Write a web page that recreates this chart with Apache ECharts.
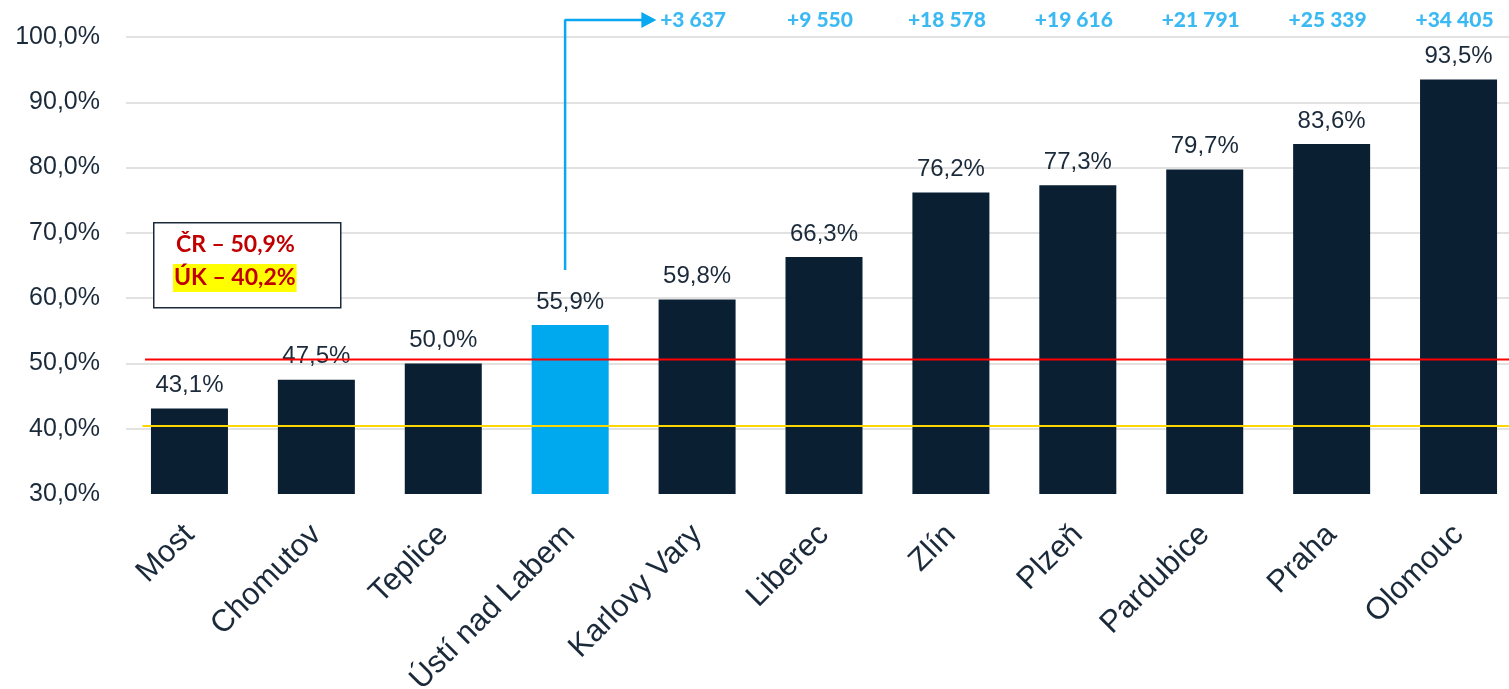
<!DOCTYPE html>
<html><head><meta charset="utf-8">
<script src="https://cdn.jsdelivr.net/npm/echarts@6/dist/echarts.min.js"></script>
<style>html,body{margin:0;padding:0;background:#fff;overflow:hidden;width:1509px;height:689px}#c{width:1530px;height:689px}</style>
</head><body><div id="c"></div>
<script>
const categories = ['Most','Chomutov','Teplice','Ústí nad Labem','Karlovy Vary','Liberec','Zlín','Plzeň','Pardubice','Praha','Olomouc'];
const shares = [43.1,47.5,50.0,55.9,59.8,66.3,76.2,77.3,79.7,83.6,93.5];
const increments = [null,null,null,null,3637,9550,18578,19616,21791,25339,34405];
const highlighted = 'Ústí nad Labem';
const yTicks = {min:30, max:100, interval:10};
const crLine = 50.6;   // drawn position of ČR line
const ukLine = 40.4;   // drawn position of ÚK line
const legendCR = 'ČR – 50,9%';
const legendUK = 'ÚK – 40,2%';
const incrementRow = 102.6;
const arrowPath = [[3.46,64.3],[3.46,102.6],[4.12,102.6]];

const DARK = '#0B1F33', BLUE = '#00A8EE', TXT = '#1B2A3A', BLUETXT = '#0AA8F0';
const fmtPct = v => v.toFixed(1).replace('.', ',') + '%';
const fmtInc = v => '+' + String(v).replace(/\B(?=(\d{3})+(?!\d))/g, ' ');

const chart = echarts.init(document.getElementById('c'), null, {renderer:'canvas'});
chart.setOption({
  animation:false,
  grid:{left:126, top:37, right:8, height:457, containLabel:false, outerBoundsMode:'none'},
  xAxis:[
    {type:'category', data:categories, axisLine:{show:false}, axisTick:{show:false},
     axisLabel:{rotate:45, margin:36, color:TXT, fontFamily:'Liberation Sans', fontSize:31, interval:0}},
    {type:'value', min:0, max:11, show:false}
  ],
  yAxis:{type:'value', min:yTicks.min, max:yTicks.max, interval:yTicks.interval,
    axisLine:{show:false}, axisTick:{show:false},
    axisLabel:{formatter:fmtPct, color:TXT, fontFamily:'Liberation Sans', fontSize:25, margin:26},
    splitLine:{lineStyle:{color:['rgba(0,0,0,0)','#D9D9D9','#D9D9D9','#D9D9D9','#D9D9D9','#D9D9D9','#D9D9D9','#D9D9D9'], width:1.5}}},
  series:[
    {type:'bar', barWidth:77, xAxisIndex:0,
     data: shares.map((v,i)=>({value:v, itemStyle:{color: categories[i]===highlighted ? BLUE : DARK}})),
     label:{show:true, position:'top', distance:11, formatter:p=>fmtPct(p.value), color:TXT, fontFamily:'Liberation Sans', fontSize:24}},
    {type:'line', xAxisIndex:1, data:[[0.15,crLine],[11,crLine]], symbol:'none', lineStyle:{color:'#FF0000', width:2}, silent:true, z:5},
    {type:'line', xAxisIndex:1, data:[[0.13,ukLine],[11,ukLine]], symbol:'none', lineStyle:{color:'#FFD700', width:2}, silent:true, z:5},
    {type:'scatter', xAxisIndex:0, clip:false, symbolSize:0,
     data: increments.map((v,i)=> v==null ? null : [categories[i], incrementRow, v]).filter(d=>d),
     label:{show:true, position:'inside', offset:[-4,0], formatter:p=>fmtInc(p.value[2]), color:BLUETXT, fontFamily:'Lato', fontWeight:900, fontSize:21}},
    {type:'line', xAxisIndex:1, clip:false, lineStyle:{color:BLUETXT, width:2.5}, itemStyle:{color:BLUETXT},
     data: arrowPath.map((p,i)=>({value:p, symbol: i===arrowPath.length-1 ? 'triangle':'none', symbolSize:[16,15], symbolRotate:-90, symbolOffset:[0,0]})), z:6}
  ],
  graphic:[
    {type:'rect', left:153, top:222, shape:{width:187, height:85}, style:{fill:'#fff', stroke:'#1B2A3A', lineWidth:1.5}, z:10},
    {type:'text', left:176, top:233, style:{text:legendCR, fill:'#C00000', font:'bold 23px Lato'}, z:11},
    {type:'text', left:173, top:264, style:{text:legendUK, fill:'#C00000', font:'bold 23px Lato', backgroundColor:'#FFFF00', padding:[2,1,3,1]}, z:11}
  ]
});
</script></body></html>
